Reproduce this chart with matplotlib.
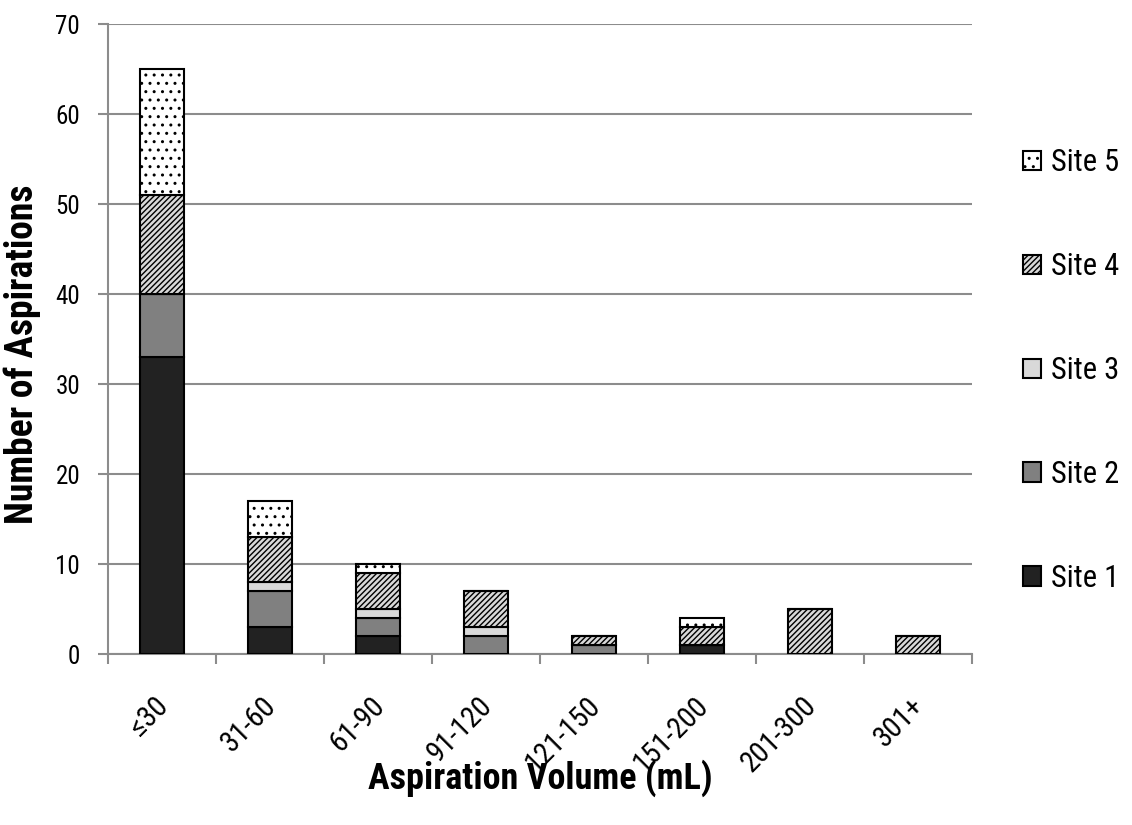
import matplotlib
matplotlib.use("Agg")
from matplotlib import pyplot as plt
from matplotlib import transforms
import numpy as np

plt.rcParams['font.family'] = ['Roboto Condensed', 'DejaVu Sans']
plt.rcParams['hatch.linewidth'] = 1.0

categories = ["≤30", "31-60", "61-90", "91-120", "121-150", "151-200", "201-300", "301+"]
site1 = [33, 3, 2, 0, 0, 1, 0, 0]
site2 = [7, 4, 2, 2, 1, 0, 0, 0]
site3 = [0, 1, 1, 1, 0, 0, 0, 0]
site4 = [11, 5, 4, 4, 1, 2, 5, 2]
site5 = [14, 4, 1, 0, 0, 1, 0, 0]
series = [("Site 1", site1), ("Site 2", site2), ("Site 3", site3),
          ("Site 4", site4), ("Site 5", site5)]
styles = {
    "Site 1": dict(color="#222222", hatch=None),
    "Site 2": dict(color="#808080", hatch=None),
    "Site 3": dict(color="#d9d9d9", hatch=None),
    "Site 4": dict(color="#d9d9d9", hatch="//////"),
    "Site 5": dict(color="#ffffff", hatch=".."),
}

fig = plt.figure(figsize=(11.32, 8.25), dpi=100)
ax = fig.add_axes([108 / 1132, 1 - 654 / 825, 864 / 1132, 630 / 825])

x = np.arange(len(categories))
bottom = np.zeros(len(categories))
for name, vals in series:
    st = styles[name]
    ax.bar(x, vals, 0.40, bottom=bottom, color=st["color"], hatch=st["hatch"],
           edgecolor="black", linewidth=1.5, label=name, zorder=3)
    bottom += np.array(vals)

ax.set_xlim(-0.5, len(categories) - 0.5)
ax.set_ylim(0, 70)
ax.set_yticks(range(0, 71, 10))
ax.yaxis.grid(True, color="#8c8c8c", linewidth=1.5, zorder=0)
ax.set_xticks(x)
ax.set_xticks(np.arange(-0.5, len(categories)), minor=True)
ax.tick_params(axis="x", which="major", length=0, pad=14)
ax.tick_params(axis="x", which="minor", length=7, width=1.5, color="#8c8c8c")
ax.tick_params(axis="y", length=7, width=1.5, color="#8c8c8c", pad=13, labelsize=18)
ax.set_xticklabels(categories, rotation=45, ha="right", rotation_mode="anchor", fontsize=21)
# nudge the slanted category labels down and left (after tick_params, which resets transforms)
shift = transforms.ScaledTranslation(-0.08, -0.18, fig.dpi_scale_trans)
for lbl in ax.get_xticklabels():
    lbl.set_transform(lbl.get_transform() + shift)
for side in ["top", "right"]:
    ax.spines[side].set_visible(False)
for side in ["left", "bottom"]:
    ax.spines[side].set_color("#8c8c8c")
    ax.spines[side].set_linewidth(1.5)

ax.set_xlabel("Aspiration Volume (mL)", fontsize=26, fontweight="bold")
ax.xaxis.set_label_coords(0.5, -0.168)
ax.set_ylabel("Number of Aspirations", fontsize=27, fontweight="bold")
ax.yaxis.set_label_coords(-0.078, 0.475)

handles, labels = ax.get_legend_handles_labels()
ax.legend(handles[::-1], labels[::-1], loc="center left", bbox_to_anchor=(1.045, 0.45),
          frameon=False, fontsize=22, labelspacing=2.45, handlelength=0.6,
          handleheight=0.6, handletextpad=0.3, borderaxespad=0)

fig.savefig("out.png", dpi=100)
